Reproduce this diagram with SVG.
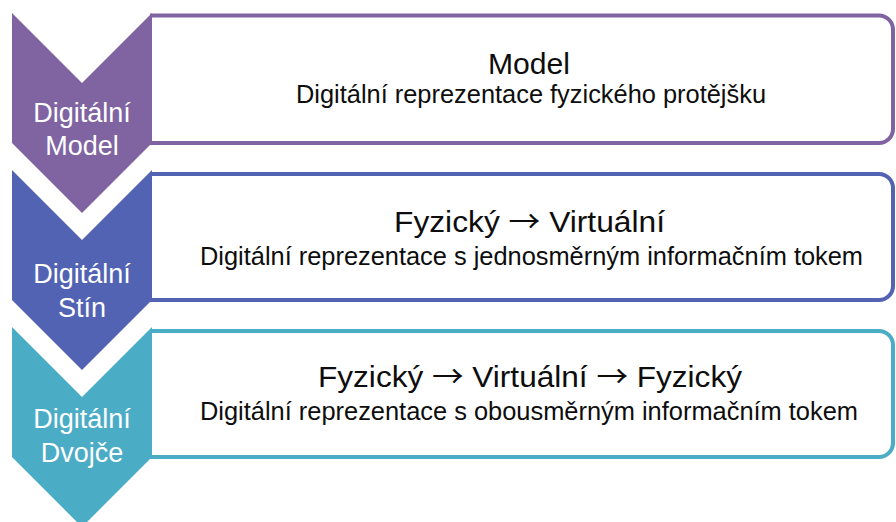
<svg xmlns="http://www.w3.org/2000/svg" width="896" height="522" viewBox="0 0 896 522">
  <style>
    .box { fill: #ffffff; stroke-width: 4; }
    .title { font-family: "Liberation Sans", Arial, sans-serif; font-size: 30px; fill: #0d0d0d; text-anchor: middle; }
    .sub { font-family: "Liberation Sans", Arial, sans-serif; font-size: 25px; fill: #0d0d0d; text-anchor: middle; }
    .arr { font-family: "Noto Sans CJK SC", "DejaVu Sans", sans-serif; font-weight: normal; }
    .lbl { font-family: "Liberation Sans", Arial, sans-serif; font-size: 27px; fill: #ffffff; text-anchor: middle; }
    .purple { fill: #8064a2; }
    .blue { fill: #5263b3; }
    .teal { fill: #4bacc6; }
  </style>
  <rect width="896" height="522" fill="#ffffff"/>

  <g id="box-model">
    <path class="box" d="M150,15.5 H879 A14,14 0 0 1 893,29.5 V129 A14,14 0 0 1 879,143 H150" stroke="#8064a2"/>
    <text class="title" x="529" y="74" textLength="82" lengthAdjust="spacingAndGlyphs">Model</text>
    <text class="sub" x="531" y="103" textLength="470" lengthAdjust="spacingAndGlyphs">Digitální reprezentace fyzického protějšku</text>
  </g>
  <g id="box-shadow">
    <path class="box" d="M150,174 H879 A14,14 0 0 1 893,188 V286 A14,14 0 0 1 879,300 H150" stroke="#5263b3"/>
    <text class="title" x="529.5" y="232" textLength="271" lengthAdjust="spacingAndGlyphs">Fyzický <tspan class="arr">→</tspan> Virtuální</text>
    <text class="sub" x="531.5" y="265" textLength="663" lengthAdjust="spacingAndGlyphs">Digitální reprezentace s jednosměrným informačním tokem</text>
  </g>
  <g id="box-twin">
    <path class="box" d="M150,331 H879 A14,14 0 0 1 893,345 V443 A14,14 0 0 1 879,457 H150" stroke="#4bacc6"/>
    <text class="title" x="530" y="387" textLength="424" lengthAdjust="spacingAndGlyphs">Fyzický <tspan class="arr">→</tspan> Virtuální <tspan class="arr">→</tspan> Fyzický</text>
    <text class="sub" x="529" y="420" textLength="658" lengthAdjust="spacingAndGlyphs">Digitální reprezentace s obousměrným informačním tokem</text>
  </g>

  <g id="chevron-model">
    <polygon class="purple" points="12,13 82,83 152,13 152,143 82,213 12,143"/>
    <text class="lbl" x="82" y="122">Digitální</text>
    <text class="lbl" x="82" y="155">Model</text>
  </g>
  <g id="chevron-shadow">
    <polygon class="blue" points="12,170 82,240 152,170 152,300 82,370 12,300"/>
    <text class="lbl" x="82" y="283">Digitální</text>
    <text class="lbl" x="82" y="317">Stín</text>
  </g>
  <g id="chevron-twin">
    <polygon class="teal" points="12,327 82,397 152,327 152,457 82,527 12,457"/>
    <text class="lbl" x="82" y="428">Digitální</text>
    <text class="lbl" x="82" y="462">Dvojče</text>
  </g>

  <g id="connectors"/>
</svg>
